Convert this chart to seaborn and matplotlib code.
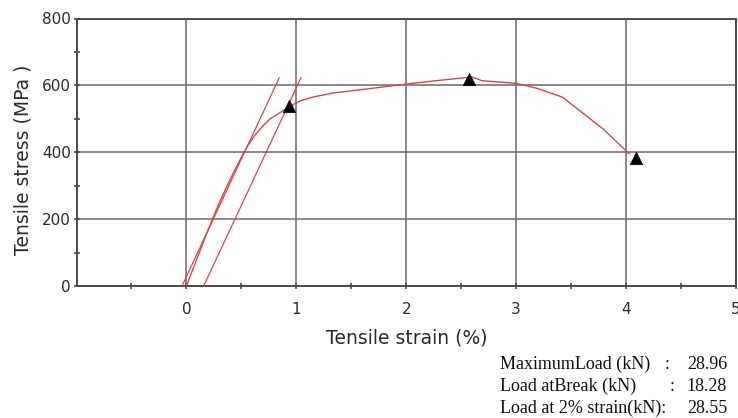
import numpy as np
import pandas as pd
import matplotlib
matplotlib.use("Agg")
import matplotlib.pyplot as plt
import seaborn as sns

# Stress-strain curve of the tensile test
strain = [0.0, 0.10, 0.20, 0.30, 0.40, 0.50, 0.55, 0.62, 0.70, 0.76, 0.85, 0.93,
          1.03, 1.15, 1.33, 1.66, 2.00, 2.27, 2.51, 2.60, 2.69, 3.00, 3.18, 3.42,
          3.79, 4.03]
stress = [0, 85, 170, 250, 320, 385, 415, 450, 480, 500, 518, 535,
          553, 565, 577, 590, 604, 614, 622, 625, 614, 606, 592, 565,
          470, 395]

# Modulus line and 0.2 % offset line
modulus_strain = [-0.04, 0.845]
offset_strain = [0.157, 1.043]
line_stress = [0, 623]

# Marked points: yield, maximum, break
mark_strain = [0.93, 2.57, 4.09]
mark_stress = [537, 620, 383]

x_ticks = [0, 1, 2, 3, 4, 5]
y_ticks = [0, 200, 400, 600, 800]

summary_labels = ["MaximumLoad (kN)", "Load atBreak (kN)", "Load at 2% strain(kN):"]
summary_colons = [":", ":", ""]
summary_values = ["28.96", "18.28", "28.55"]

curve = pd.DataFrame({"strain": strain, "stress": stress})
modulus = pd.DataFrame({"strain": modulus_strain, "stress": line_stress})
offset = pd.DataFrame({"strain": offset_strain, "stress": line_stress})
marks = pd.DataFrame({"strain": mark_strain, "stress": mark_stress})

sns.set_theme(style="white")
plt.rcParams["font.family"] = ["DejaVu Sans"]

W, H = 738, 418
fig = plt.figure(figsize=(W / 100, H / 100), dpi=100)
left, right, top, bottom = 76.5, 736.0, 18.5, 286.0
ax = fig.add_axes([left / W, 1 - bottom / H, (right - left) / W, (bottom - top) / H])

red = "#d64545"
ax.grid(True, which="major", color="#747474", linewidth=1.2, zorder=0)
ax.set_axisbelow(True)

sns.lineplot(data=modulus, x="strain", y="stress", color=red, linewidth=0.9,
             sort=False, estimator=None, ax=ax, zorder=3)
sns.lineplot(data=offset, x="strain", y="stress", color=red, linewidth=0.9,
             sort=False, estimator=None, ax=ax, zorder=3)
sns.lineplot(data=curve, x="strain", y="stress", color=red, linewidth=1.0,
             sort=False, estimator=None, ax=ax, zorder=4)
sns.scatterplot(data=marks, x="strain", y="stress", marker="^", color="black",
                s=80, edgecolor="black", linewidth=0.5, ax=ax, zorder=5)

ax.set_xlim(-1, 5)
ax.set_ylim(0, 800)
ax.set_xticks(x_ticks)
ax.set_xticklabels([str(v) for v in x_ticks])
ax.set_xticks(np.arange(-0.5, 5, 1.0), minor=True)
ax.set_yticks(y_ticks)
ax.set_yticklabels([str(v) for v in y_ticks])
ax.set_yticks([100, 300, 500, 700], minor=True)

for s in ax.spines.values():
    s.set_color("#4a4a4a")
    s.set_linewidth(1.4)

ax.tick_params(axis="both", which="both", direction="inout", length=4.3,
               width=1.2, color="#4a4a4a", labelcolor="#2a2a2a", labelsize=11,
               bottom=True, left=True, top=False, right=False)
ax.tick_params(axis="x", which="both", pad=9.4)
ax.tick_params(axis="y", which="both", pad=2.0)

ax.set_xlabel("Tensile strain (%)", fontsize=13.5, color="#2a2a2a")
ax.set_ylabel("Tensile stress (MPa )", fontsize=13.5, color="#2a2a2a")
ax.xaxis.set_label_coords(0.5, -(328 - bottom) / (bottom - top))
ax.yaxis.set_label_coords((33 - left) / (right - left), (bottom - 160) / (bottom - top))

serif = ["Liberation Serif", "DejaVu Serif"]
baselines = [369, 391, 413]
colon_x = [667, 672, 677]
for lab, col, val, yb, cx in zip(summary_labels, summary_colons, summary_values,
                                 baselines, colon_x):
    fig.text(500 / W, 1 - yb / H, lab, family=serif, fontsize=13,
             ha="left", va="baseline", color="#111111")
    if col:
        fig.text(cx / W, 1 - yb / H, col, family=serif, fontsize=13,
                 ha="center", va="baseline", color="#111111")
    fig.text(727 / W, 1 - yb / H, val, family=serif, fontsize=13,
             ha="right", va="baseline", color="#111111")

fig.savefig("out.png", dpi=100, facecolor="white")
